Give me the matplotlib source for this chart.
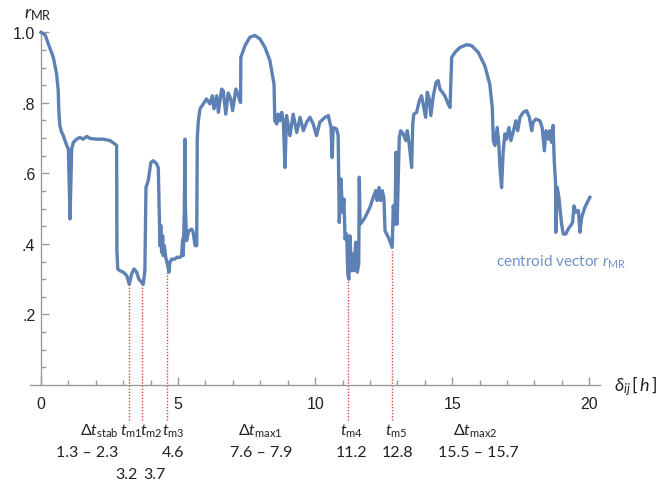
import numpy as np
import matplotlib
matplotlib.use("Agg")
import matplotlib.pyplot as plt
from matplotlib.ticker import FixedLocator, NullFormatter

plt.rcParams['mathtext.fontset'] = 'custom'
plt.rcParams['mathtext.rm'] = 'Lato'
plt.rcParams['mathtext.it'] = 'Lato:italic'
plt.rcParams['mathtext.bf'] = 'Lato:bold'
plt.rcParams['mathtext.sf'] = 'Lato'

# time offset delta_ij in hours
delta = [
    0.00, 0.15, 0.27, 0.45, 0.57, 0.63, 0.65, 0.69, 0.755, 0.80, 0.875, 0.94, 1.00, 1.06, 1.12,
    1.18, 1.30, 1.42, 1.54, 1.67, 1.79, 2.03, 2.27, 2.52, 2.70, 2.76, 2.77, 2.80, 2.88, 3.00,
    3.13, 3.22, 3.31, 3.39, 3.49, 3.57, 3.67, 3.73, 3.79, 3.83, 3.91, 4.01, 4.10, 4.22, 4.28,
    4.31, 4.34, 4.37, 4.40, 4.44, 4.46, 4.50, 4.55, 4.61, 4.67, 4.70, 4.77, 4.89, 4.95, 5.07,
    5.13, 5.17, 5.19, 5.23, 5.25, 5.27, 5.31, 5.39, 5.50, 5.55, 5.62, 5.68, 5.70, 5.74, 5.80,
    5.92, 6.04, 6.16, 6.25, 6.31, 6.41, 6.47, 6.59, 6.65, 6.74, 6.83, 6.92, 6.99, 7.11, 7.20,
    7.28, 7.29, 7.44, 7.62, 7.80, 7.99, 8.17, 8.35, 8.50, 8.53, 8.60, 8.65, 8.72, 8.78, 8.84,
    8.90, 8.96, 9.08, 9.20, 9.33, 9.45, 9.57, 9.69, 9.81, 9.93, 10.05, 10.17, 10.36, 10.48, 10.58,
    10.62, 10.66, 10.78, 10.84, 10.86, 10.88, 10.94, 11.00, 11.05, 11.09, 11.15, 11.19, 11.23, 11.27, 11.33,
    11.37, 11.42, 11.48, 11.54, 11.59, 11.61, 11.64, 11.70, 11.82, 12.00, 12.12, 12.21, 12.26, 12.33, 12.39,
    12.45, 12.51, 12.55, 12.67, 12.76, 12.81, 12.85, 12.91, 12.95, 12.99, 13.03, 13.07, 13.12, 13.21, 13.31,
    13.36, 13.43, 13.52, 13.56, 13.60, 13.70, 13.80, 13.88, 13.94, 14.03, 14.09, 14.16, 14.22, 14.31, 14.41,
    14.49, 14.55, 14.64, 14.73, 14.85, 14.92, 14.98, 15.10, 15.28, 15.53, 15.71, 15.95, 16.19, 16.37, 16.46,
    16.50, 16.56, 16.64, 16.70, 16.74, 16.80, 16.86, 16.92, 16.98, 17.07, 17.14, 17.22, 17.32, 17.39, 17.47,
    17.59, 17.71, 17.81, 17.90, 17.95, 18.05, 18.20, 18.28, 18.36, 18.42, 18.50, 18.56, 18.62, 18.68, 18.72,
    18.77, 18.78, 18.83, 18.89, 18.95, 18.99, 19.05, 19.14, 19.23, 19.32, 19.39, 19.44, 19.51, 19.60, 19.66,
    19.72, 19.84, 20.02,
]

# centroid vector r_MR
r_mr = [
    1.000, 0.993, 0.967, 0.929, 0.882, 0.834, 0.780, 0.735, 0.716, 0.710, 0.693, 0.679, 0.669, 0.471, 0.669,
    0.688, 0.697, 0.702, 0.697, 0.705, 0.699, 0.697, 0.697, 0.693, 0.683, 0.679, 0.381, 0.329, 0.324, 0.320,
    0.310, 0.286, 0.315, 0.329, 0.320, 0.300, 0.291, 0.286, 0.324, 0.560, 0.579, 0.631, 0.636, 0.627, 0.615,
    0.508, 0.395, 0.452, 0.376, 0.423, 0.367, 0.395, 0.362, 0.343, 0.320, 0.348, 0.357, 0.357, 0.362, 0.362,
    0.367, 0.414, 0.367, 0.500, 0.697, 0.500, 0.409, 0.437, 0.442, 0.433, 0.395, 0.395, 0.697, 0.749, 0.783,
    0.797, 0.811, 0.797, 0.820, 0.783, 0.820, 0.773, 0.839, 0.834, 0.768, 0.828, 0.811, 0.778, 0.839, 0.820,
    0.801, 0.929, 0.962, 0.986, 0.991, 0.981, 0.957, 0.920, 0.853, 0.749, 0.740, 0.768, 0.749, 0.773, 0.749,
    0.617, 0.764, 0.707, 0.768, 0.716, 0.759, 0.721, 0.745, 0.759, 0.740, 0.707, 0.745, 0.759, 0.764, 0.730,
    0.645, 0.730, 0.726, 0.707, 0.584, 0.461, 0.584, 0.490, 0.527, 0.414, 0.428, 0.315, 0.300, 0.423, 0.324,
    0.371, 0.324, 0.405, 0.320, 0.343, 0.589, 0.456, 0.461, 0.475, 0.504, 0.532, 0.551, 0.523, 0.560, 0.523,
    0.551, 0.530, 0.437, 0.419, 0.400, 0.390, 0.508, 0.456, 0.660, 0.456, 0.579, 0.702, 0.721, 0.712, 0.693,
    0.721, 0.683, 0.617, 0.740, 0.768, 0.773, 0.806, 0.820, 0.797, 0.759, 0.830, 0.811, 0.764, 0.820, 0.858,
    0.863, 0.839, 0.830, 0.820, 0.797, 0.787, 0.929, 0.943, 0.957, 0.965, 0.962, 0.943, 0.905, 0.853, 0.787,
    0.693, 0.679, 0.730, 0.683, 0.617, 0.560, 0.664, 0.712, 0.697, 0.730, 0.693, 0.716, 0.749, 0.721, 0.759,
    0.773, 0.778, 0.760, 0.721, 0.745, 0.754, 0.749, 0.730, 0.664, 0.721, 0.697, 0.721, 0.688, 0.736, 0.636,
    0.570, 0.433, 0.560, 0.532, 0.485, 0.456, 0.428, 0.428, 0.442, 0.452, 0.461, 0.508, 0.490, 0.495, 0.433,
    0.475, 0.504, 0.532,
]

# minima marked with dotted drop lines
minima_t = [3.2, 3.7, 4.6, 11.2, 12.8]
minima_r = [0.285, 0.285, 0.32, 0.30, 0.38]

x_ticks = [0, 5, 10, 15, 20]
y_ticks = [0.2, 0.4, 0.6, 0.8, 1.0]
y_tick_labels = ['.2', '.4', '.6', '.8', '1.0']

# annotation rows under the axis: (text, x position)
row_names = [
    (r'$\Delta t_{\rm stab}$', 2.12), (r'$t_{\rm m1}$', 3.29), (r'$t_{\rm m2}$', 4.04),
    (r'$t_{\rm m3}$', 4.84), (r'$\Delta t_{\rm max1}$', 7.99), (r'$t_{\rm m4}$', 11.31),
    (r'$t_{\rm m5}$', 12.95), (r'$\Delta t_{\rm max2}$', 15.83),
]
row_values = [
    ('1.3 \u2013 2.3', 1.68), ('4.6', 4.81), ('7.6 \u2013 7.9', 8.02),
    ('11.2', 11.31), ('12.8', 13.02), ('15.5 \u2013 15.7', 15.94),
]
row_values2 = [('3.2', 3.10), ('3.7', 4.12)]

line_color = '#5E81B5'
axis_gray = '#9b9b9b'

fig = plt.figure(figsize=(6.69, 4.85), dpi=100)
ax = fig.add_axes([30 / 669, 99 / 485, 570 / 669, 352.7 / 485])
ax.set_xlim(-0.40, 20.39)
ax.set_ylim(0, 1.0)

ax.plot(delta, r_mr, color=line_color, lw=2.4, solid_joinstyle='round', clip_on=False, zorder=3)

vl = ax.vlines(minima_t, -0.10, minima_r, colors='#e0453f', linestyles=(0, (1, 1.2)), lw=1.0, zorder=2)
vl.set_clip_on(False)

for side in ('top', 'right'):
    ax.spines[side].set_visible(False)
ax.spines['left'].set_position(('data', 0))
for side in ('left', 'bottom'):
    ax.spines[side].set_color(axis_gray)
    ax.spines[side].set_linewidth(1.0)

ax.xaxis.set_major_locator(FixedLocator(x_ticks))
ax.xaxis.set_minor_locator(FixedLocator([v for v in range(1, 21) if v % 5]))
ax.yaxis.set_major_locator(FixedLocator(y_ticks))
ax.yaxis.set_minor_locator(FixedLocator([round(0.05 * k, 2) for k in range(1, 20) if k % 4]))
ax.set_yticklabels(y_tick_labels)
ax.xaxis.set_minor_formatter(NullFormatter())
ax.tick_params(which='both', direction='in', color=axis_gray, width=1.0)
ax.tick_params(which='major', length=6)
ax.tick_params(which='minor', length=3.5)
ax.tick_params(axis='x', which='major', pad=8)
ax.tick_params(axis='y', which='major', pad=4)
for lab in ax.get_xticklabels() + ax.get_yticklabels():
    lab.set_fontfamily('Liberation Sans')
    lab.set_fontsize(11.5)
    lab.set_color('#222222')

for text, xv in row_names:
    ax.text(xv, -0.128, text, ha='center', va='center', fontsize=11.5, color='#222222')
for text, xv in row_values:
    ax.text(xv, -0.19, text, ha='center', va='center', fontsize=11.5, family='Lato', color='#222222')
for text, xv in row_values2:
    ax.text(xv, -0.252, text, ha='center', va='center', fontsize=11.5, family='Lato', color='#222222')

fig.text(24 / 669, 1 - 14 / 485, r'$r_{\rm MR}$', ha='left', va='center', fontsize=13, color='#222222')
fig.text(614 / 669, 1 - 386 / 485, r'$\delta_{ij}\,[\,\mathit{h}\,]$', ha='left', va='center',
         fontsize=13, color='#222222')
fig.text(496 / 669, 1 - 262 / 485, r'centroid vector $r_{\rm MR}$', ha='left', va='center',
         fontsize=11, family='Lato', color='#6f92c6')

fig.savefig('out.png', dpi=100)
